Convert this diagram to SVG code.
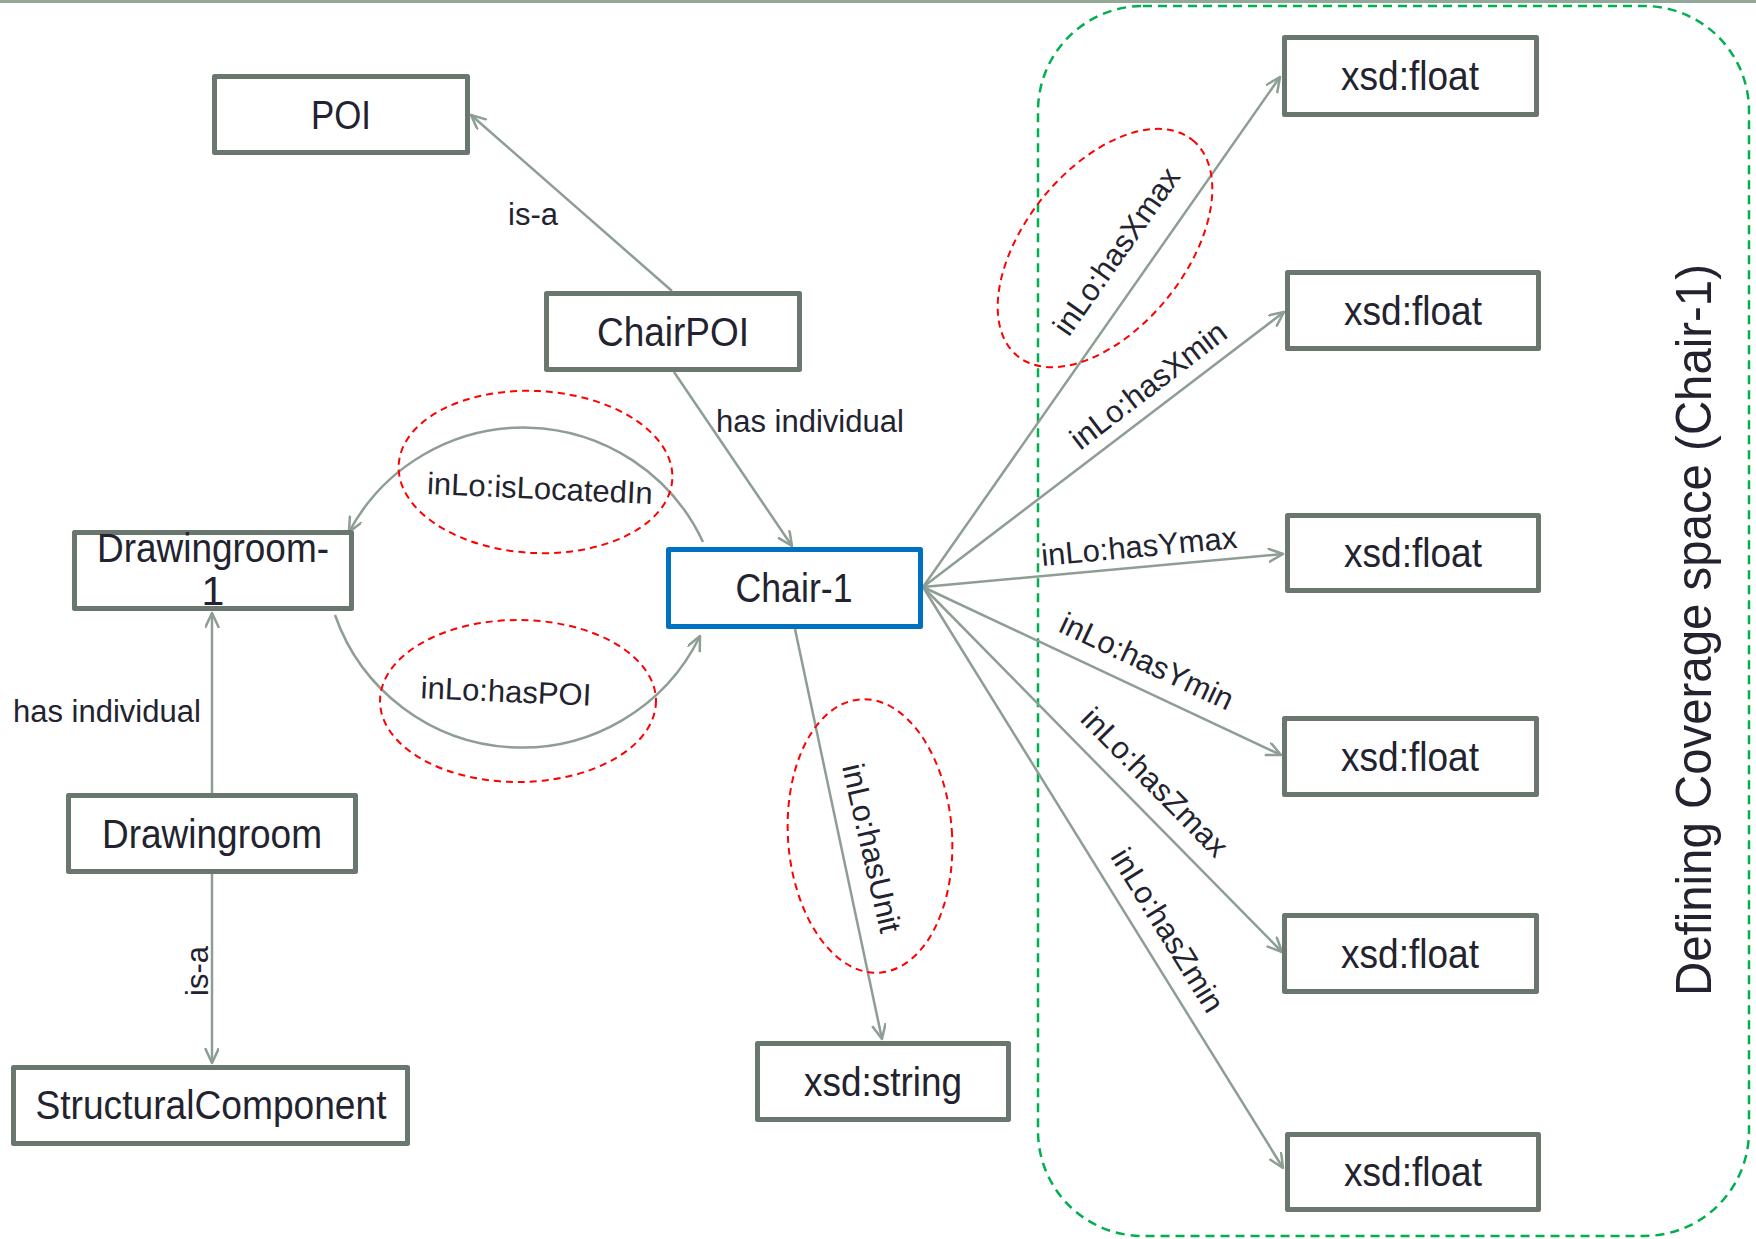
<svg xmlns="http://www.w3.org/2000/svg" width="1756" height="1239" viewBox="0 0 1756 1239">
  <style>
    .box { fill: #ffffff; stroke: #6a776e; stroke-width: 5; stroke-linejoin: round; }
    .box.sel { stroke: #0070c0; }
    .node { font-family: "Liberation Sans", Arial, sans-serif; font-size: 41px; fill: #23232f; text-anchor: middle; }
    .lbl { font-family: "Liberation Sans", Arial, sans-serif; font-size: 31px; fill: #23232f; }
    .mid { text-anchor: middle; }
    .edge { fill: none; stroke: #8e9e94; stroke-width: 2.5; marker-end: url(#open); }
    .hl { fill: none; stroke: #ff0000; stroke-width: 2; stroke-dasharray: 7 5; }
    .group { fill: none; stroke: #00b050; stroke-width: 2.5; stroke-dasharray: 9 6; }
    .title { font-family: "Liberation Sans", Arial, sans-serif; font-size: 50px; fill: #23232f; text-anchor: middle; }
  </style>
  <defs>
    <marker id="open" markerUnits="userSpaceOnUse" markerWidth="20" markerHeight="20" refX="15" refY="7" orient="auto">
      <path d="M1,0.5 L15,7 L1,13.5" fill="none" stroke="#8e9e94" stroke-width="2.5" stroke-linecap="round" stroke-linejoin="round"/>
    </marker>
  </defs>

  <rect x="0" y="0" width="1756" height="1239" fill="#ffffff"/>
  <rect x="0" y="0" width="1756" height="3" fill="#94a89a"/>

  <!-- coverage space group -->
  <rect class="group" x="1038" y="6" width="711" height="1230" rx="105" ry="105"/>
  <text class="title" transform="translate(1711,630) rotate(-90)" textLength="732" lengthAdjust="spacingAndGlyphs">Defining Coverage space (Chair-1)</text>

  <!-- connectors -->
  <g id="connectors">
    <path class="edge" d="M672,291 L471,115"/>
    <path class="edge" d="M674,372 L792,546"/>
    <path class="edge" d="M703,542 A198,198 0 0 0 349,532"/>
    <path class="edge" d="M335,615 A198,198 0 0 0 700,636"/>
    <path class="edge" d="M212,793 L212,613"/>
    <path class="edge" d="M212,874 L212,1063"/>
    <path class="edge" d="M795,629 L882,1039"/>
    <path class="edge" d="M923,587 L1280,77"/>
    <path class="edge" d="M923,587 L1284,312"/>
    <path class="edge" d="M923,587 L1283,554"/>
    <path class="edge" d="M923,587 L1281,755"/>
    <path class="edge" d="M923,587 L1282,952"/>
    <path class="edge" d="M923,587 L1283,1168"/>

    <text class="lbl" x="508" y="225">is-a</text>
    <text class="lbl" x="716" y="432">has individual</text>
    <text class="lbl" x="13" y="722">has individual</text>
    <text class="lbl mid" transform="translate(208,971) rotate(-90)">is-a</text>
    <text class="lbl mid" transform="translate(540,488) rotate(2.5)" y="11">inLo:isLocatedIn</text>
    <text class="lbl mid" transform="translate(506,691) rotate(2.5)" y="11">inLo:hasPOI</text>
    <text class="lbl mid" transform="translate(872,848) rotate(77)" y="11">inLo:hasUnit</text>
    <text class="lbl mid" transform="translate(1116,251) rotate(-55)" y="11">inLo:hasXmax</text>
    <text class="lbl mid" transform="translate(1148,385) rotate(-37.5)" y="11">inLo:hasXmin</text>
    <text class="lbl mid" transform="translate(1139,546) rotate(-5.3)" y="11">inLo:hasYmax</text>
    <text class="lbl mid" transform="translate(1147,661) rotate(25.2)" y="11">inLo:hasYmin</text>
    <text class="lbl mid" transform="translate(1155,782) rotate(45.5)" y="11">inLo:hasZmax</text>
    <text class="lbl mid" transform="translate(1168,930) rotate(58.3)" y="11">inLo:hasZmin</text>

    <!-- highlight rings -->
    <ellipse class="hl" cx="0" cy="0" rx="137" ry="81" transform="translate(535.5,472) rotate(3)"/>
    <ellipse class="hl" cx="0" cy="0" rx="138" ry="81" transform="translate(518,701)"/>
    <ellipse class="hl" cx="0" cy="0" rx="82" ry="137" transform="translate(870,836) rotate(-4)"/>
    <ellipse class="hl" cx="0" cy="0" rx="139" ry="80" transform="translate(1105,248) rotate(-51)"/>
  </g>

  <!-- nodes -->
  <g id="poi">
    <rect class="box" x="214.5" y="76.5" width="253" height="76"/>
    <text class="node" x="341" y="129" textLength="60" lengthAdjust="spacingAndGlyphs">POI</text>
  </g>
  <g id="chairpoi">
    <rect class="box" x="546.5" y="293.5" width="253" height="76"/>
    <text class="node" x="673" y="346" textLength="152" lengthAdjust="spacingAndGlyphs">ChairPOI</text>
  </g>
  <g id="chair-1">
    <rect class="box sel" x="668.5" y="549.5" width="252" height="77"/>
    <text class="node" x="794" y="602" textLength="117" lengthAdjust="spacingAndGlyphs">Chair-1</text>
  </g>
  <g id="drawingroom-1">
    <rect class="box" x="74.5" y="532.5" width="277" height="76"/>
    <text class="node" x="213" y="562" textLength="232" lengthAdjust="spacingAndGlyphs">Drawingroom-</text>
    <text class="node" x="213" y="605">1</text>
  </g>
  <g id="drawingroom">
    <rect class="box" x="68.5" y="795.5" width="287" height="76"/>
    <text class="node" x="212" y="848" textLength="220" lengthAdjust="spacingAndGlyphs">Drawingroom</text>
  </g>
  <g id="structuralcomponent">
    <rect class="box" x="13.5" y="1067.5" width="394" height="76"/>
    <text class="node" x="211" y="1119" textLength="351" lengthAdjust="spacingAndGlyphs">StructuralComponent</text>
  </g>
  <g id="xsd-string">
    <rect class="box" x="757.5" y="1043.5" width="251" height="76"/>
    <text class="node" x="883" y="1096" textLength="158" lengthAdjust="spacingAndGlyphs">xsd:string</text>
  </g>
  <g id="float-xmax">
    <rect class="box" x="1284.5" y="37.5" width="252" height="77"/>
    <text class="node" x="1410" y="90" textLength="138" lengthAdjust="spacingAndGlyphs">xsd:float</text>
  </g>
  <g id="float-xmin">
    <rect class="box" x="1287.5" y="272.5" width="251" height="76"/>
    <text class="node" x="1413" y="325" textLength="138" lengthAdjust="spacingAndGlyphs">xsd:float</text>
  </g>
  <g id="float-ymax">
    <rect class="box" x="1287.5" y="515.5" width="251" height="75"/>
    <text class="node" x="1413" y="567" textLength="138" lengthAdjust="spacingAndGlyphs">xsd:float</text>
  </g>
  <g id="float-ymin">
    <rect class="box" x="1284.5" y="718.5" width="252" height="76"/>
    <text class="node" x="1410" y="771" textLength="138" lengthAdjust="spacingAndGlyphs">xsd:float</text>
  </g>
  <g id="float-zmax">
    <rect class="box" x="1284.5" y="915.5" width="252" height="76"/>
    <text class="node" x="1410" y="968" textLength="138" lengthAdjust="spacingAndGlyphs">xsd:float</text>
  </g>
  <g id="float-zmin">
    <rect class="box" x="1287.5" y="1134.5" width="251" height="75"/>
    <text class="node" x="1413" y="1186" textLength="138" lengthAdjust="spacingAndGlyphs">xsd:float</text>
  </g>
</svg>
